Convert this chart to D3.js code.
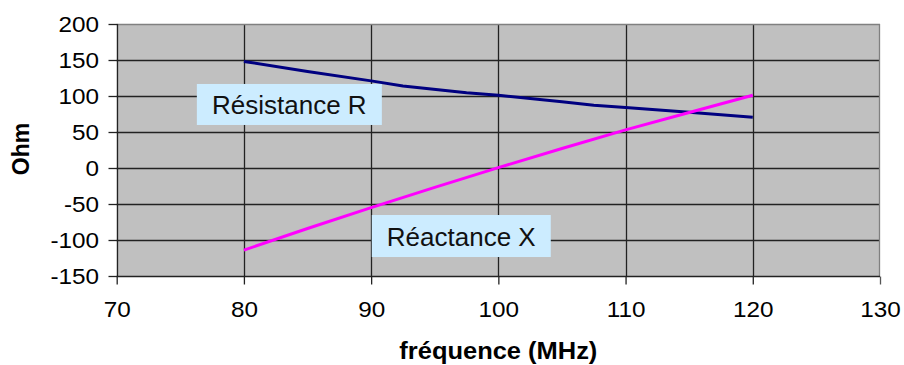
<!DOCTYPE html>
<html><head><meta charset="utf-8">
<script src="https://cdn.jsdelivr.net/npm/d3@7"></script>
<style>html,body{margin:0;padding:0;background:#fff;}svg{display:block;font-family:"Liberation Sans",Arial,sans-serif;}</style>
</head><body>
<svg id="c" width="904" height="365"></svg>
<script>
const freqR = [80, 85, 90, 92.5, 97.5, 100, 105, 107.5, 110, 115, 120];
const resistance = [148, 134, 121, 114, 104.5, 101, 92, 87, 84, 77.5, 70.5];
const freqX = [80, 85, 90, 95, 100, 105, 110, 115, 120];
const reactance = [-114, -84, -55, -27, 0.5, 27, 53, 77, 101];
const xTicks = [70, 80, 90, 100, 110, 120, 130];
const yTicks = [-150, -100, -50, 0, 50, 100, 150, 200];
const labelR = "Résistance R";
const labelX = "Réactance X";
const xTitle = "fréquence (MHz)";
const yTitle = "Ohm";

const svg = d3.select("#c");
const L = 116.7, R = 880, T = 24, B = 276;
const x = d3.scaleLinear().domain([70, 130]).range([L, R]);
const y = d3.scaleLinear().domain([-150, 200]).range([B, T]);

svg.append("rect").attr("x", L).attr("y", T).attr("width", R - L).attr("height", B - T).attr("fill", "#C0C0C0");

// gridlines
svg.append("g").selectAll("line").data(yTicks.filter(d => d > -150 && d < 200)).join("line")
  .attr("x1", L).attr("x2", R).attr("y1", d => Math.round(y(d)) + 0.5).attr("y2", d => Math.round(y(d)) + 0.5)
  .attr("stroke", "#222").attr("stroke-width", 1.3);
svg.append("g").selectAll("line").data(xTicks.filter(d => d > 70 && d < 130)).join("line")
  .attr("y1", T).attr("y2", B).attr("x1", d => Math.round(x(d)) + 0.5).attr("x2", d => Math.round(x(d)) + 0.5)
  .attr("stroke", "#222").attr("stroke-width", 1.3);
// border top/right grey
svg.append("line").attr("x1", L).attr("x2", R).attr("y1", T + 0.5).attr("y2", T + 0.5).attr("stroke", "#808080").attr("stroke-width", 1.3);
svg.append("line").attr("x1", R - 0.5).attr("x2", R - 0.5).attr("y1", T).attr("y2", B).attr("stroke", "#808080").attr("stroke-width", 1.3);

const fmt = d => String(d);

// axes
const yAxis = d3.axisLeft(y).tickValues(yTicks).tickSize(9).tickPadding(9).tickFormat(fmt);
const gy = svg.append("g").attr("transform", `translate(${Math.round(L) + 0.5},0)`).call(yAxis);
gy.selectAll(".tick line").attr("stroke", "#222").attr("stroke-width", 1.3);
gy.select(".domain").attr("stroke", "#222").attr("stroke-width", 1.3).attr("d", `M0,${T}V${B}`);
gy.selectAll("text").attr("font-size", 22.5).attr("fill", "#000").attr("font-family", "Liberation Sans, Arial, sans-serif")
  .attr("transform", "scale(1.08,1)").attr("x", -18.5 / 1.08).attr("dy", "0.34em");

const xAxis = d3.axisBottom(x).tickValues(xTicks).tickSize(8).tickPadding(10).tickFormat(fmt);
const gx = svg.append("g").attr("transform", `translate(0,${Math.round(B) + 0.5})`).call(xAxis);
gx.selectAll(".tick line").attr("stroke", "#222").attr("stroke-width", 1.3);
gx.select(".domain").attr("stroke", "#222").attr("stroke-width", 1.3).attr("d", `M${L},0H${R}`);
gx.selectAll(".tick line").filter(d => d === 130).attr("stroke", "#555");
gx.selectAll("text").attr("font-size", 22.5).attr("fill", "#000").attr("font-family", "Liberation Sans, Arial, sans-serif")
  .attr("dy", null).attr("y", 41).attr("transform", "scale(1.08,1)").attr("x", 0);

// lines
const line = d3.line().x(d => x(d[0])).y(d => y(d[1]));
svg.append("path").datum(freqR.map((f, i) => [f, resistance[i]])).attr("d", line)
  .attr("fill", "none").attr("stroke", "#000080").attr("stroke-width", 3).attr("stroke-linejoin", "round");
svg.append("path").datum(freqX.map((f, i) => [f, reactance[i]])).attr("d", line)
  .attr("fill", "none").attr("stroke", "#FF00FF").attr("stroke-width", 3).attr("stroke-linejoin", "round");

// annotation labels
function label(txt, fx, vy, w, h) {
  const g = svg.append("g").attr("transform", `translate(${x(fx)},${y(vy)})`);
  g.append("rect").attr("width", w).attr("height", h).attr("fill", "#CCECFF");
  g.append("text").attr("x", w / 2).attr("y", h / 2 + 9.5).attr("text-anchor", "middle")
    .attr("font-size", 26).attr("fill", "#111").text(txt);
}
label(labelR, 76.3, 116.7, 185, 41);
label(labelX, 90.05, -65.3, 179, 42);

// titles
svg.append("text").attr("transform", "translate(29,149) rotate(-90)").attr("text-anchor", "middle")
  .attr("font-size", 23).attr("font-weight", "bold").attr("fill", "#000").text(yTitle);
svg.append("text").attr("x", (L + R) / 2).attr("y", 359).attr("text-anchor", "middle")
  .attr("font-size", 24).attr("font-weight", "bold").attr("fill", "#000")
  .attr("textLength", 198).attr("lengthAdjust", "spacingAndGlyphs").text(xTitle);
</script>
</body></html>
